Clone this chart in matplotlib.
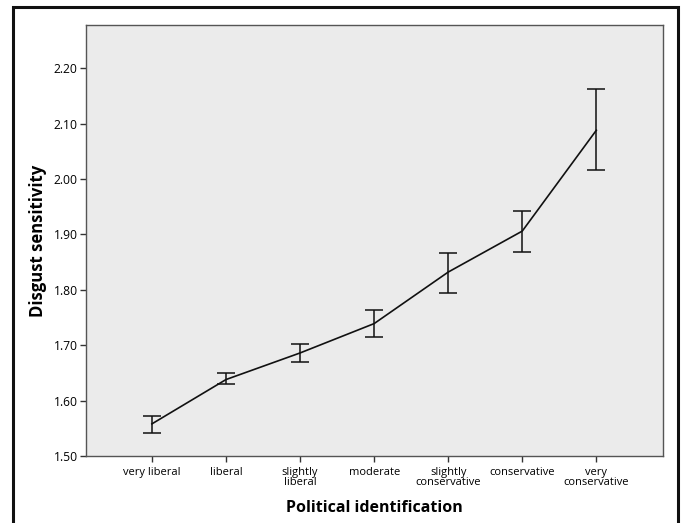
import numpy as np
import matplotlib
matplotlib.use('Agg')
from matplotlib import pyplot as plt
from matplotlib.patches import Rectangle

categories = ['very liberal', 'liberal', 'slightly\nliberal', 'moderate',
              'slightly\nconservative', 'conservative', 'very\nconservative']
means = [1.558, 1.638, 1.686, 1.739, 1.832, 1.906, 2.088]
upper = [1.573, 1.650, 1.703, 1.763, 1.866, 1.943, 2.162]
lower = [1.542, 1.630, 1.669, 1.715, 1.794, 1.869, 2.017]
yticks = [1.50, 1.60, 1.70, 1.80, 1.90, 2.00, 2.10, 2.20]

plt.rcParams['font.family'] = ['Open Sans', 'DejaVu Sans']

fig = plt.figure(figsize=(6.81, 5.23), dpi=100)
ax = fig.add_axes([86 / 681, 1 - 456 / 523, (663 - 86) / 681, (456 - 25) / 523])

x = np.arange(len(categories))
m = np.array(means)
err = [m - np.array(lower), np.array(upper) - m]
ax.errorbar(x, m, yerr=err, color='#111111', linewidth=1.2, elinewidth=1.1,
            capsize=6.8, capthick=1.1)

ax.set_facecolor('#ebebeb')
for s in ax.spines.values():
    s.set_color('#555555')
    s.set_linewidth(1.0)

ax.set_xlim(-0.89, 6.9)
ax.set_ylim(1.50, 2.278)
ax.set_yticks(yticks)
ax.set_yticklabels(['%.2f' % v for v in yticks], fontsize=8.7)
ax.set_xticks(x)
ax.set_xticklabels(categories, fontsize=8, linespacing=0.8)
ax.tick_params(axis='both', direction='out', length=4, width=1.0, color='#333333', pad=2)
ax.tick_params(axis='x', pad=4)

ax.set_ylabel('Disgust sensitivity', fontsize=12, fontweight='bold', labelpad=5)
ax.set_xlabel('Political identification', fontsize=11.5, fontweight='bold', labelpad=9)

# outer frame
fig.patches.append(Rectangle((13 / 681, -0.01), (678 - 13) / 681, 1 - 7 / 523 + 0.01,
                             transform=fig.transFigure, fill=False,
                             edgecolor='#111111', linewidth=2.2))

fig.savefig('out.png', dpi=100)
